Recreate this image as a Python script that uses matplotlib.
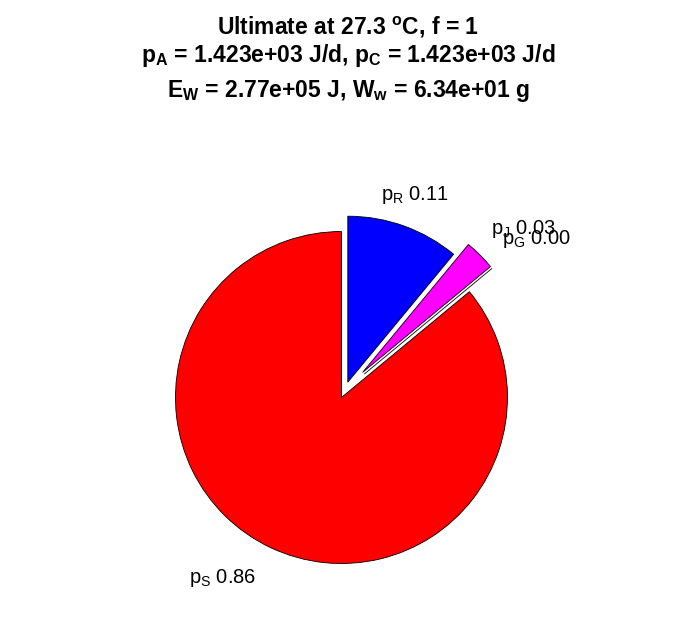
import matplotlib
matplotlib.use("Agg")
import matplotlib.pyplot as plt

plt.rcParams['font.family'] = ['Liberation Sans', 'DejaVu Sans']
plt.rcParams['mathtext.fontset'] = 'custom'
plt.rcParams['mathtext.rm'] = 'Liberation Sans'
plt.rcParams['mathtext.it'] = 'Liberation Sans'
plt.rcParams['mathtext.bf'] = 'Liberation Sans:bold'
plt.rcParams['mathtext.default'] = 'rm'

# energy fractions
names = ['R', 'J', 'G', 'S']
fracs = [0.11, 0.03, 0.00, 0.86]
colors = ['#0000ff', '#ff00ff', '#00ffff', '#ff0000']
explode = [0.05, 0.15, 0.15, 0.05]

labels = ["$p_{%s}$ %.2f" % (n, f) for n, f in zip(names, fracs)]

W, H = 696, 618
R = 166.0   # pie radius in px
cx, cy = 345, 390   # pie centre in px (from top)

fig = plt.figure(figsize=(W / 100, H / 100), dpi=100)
ax = fig.add_axes([0, 0, 1, 1])
ax.axis('off')

wedges, texts = ax.pie(fracs, labels=labels, colors=colors, explode=explode,
                       startangle=90, counterclock=False, labeldistance=1.2,
                       wedgeprops=dict(edgecolor='black', linewidth=0.6),
                       textprops=dict(fontsize=14.5))
ax.set_xlim(-cx / R, (W - cx) / R)
ax.set_ylim(-(H - cy) / R, cy / R)
ax.set_aspect('auto')

texts[0].set_ha('center')
texts[1].set_ha('left')
texts[2].set_ha('left')
texts[3].set_ha('right')
# the two small slices sit a bit closer in the original
for t, (dx, dy) in zip(texts[1:3], [(-12, 3), (-16, 8)]):
    x, y = t.get_position()
    t.set_position((x + dx / R, y + dy / R))

fig.text(0.5, 1 - 34 / H, r"Ultimate at 27.3 $\mathbf{^o}$C, f = 1",
         ha='center', va='baseline', fontsize=16.5, fontweight='bold')
fig.text(0.5, 1 - 62 / H,
         r"$\mathbf{p_A}$ = 1.423e+03 J/d, $\mathbf{p_C}$ = 1.423e+03 J/d",
         ha='center', va='baseline', fontsize=16.5, fontweight='bold')
fig.text(0.5, 1 - 97 / H,
         r"$\mathbf{E_W}$ = 2.77e+05 J, $\mathbf{W_w}$ = 6.34e+01 g",
         ha='center', va='baseline', fontsize=16.5, fontweight='bold')

fig.savefig('out.png', dpi=100)
